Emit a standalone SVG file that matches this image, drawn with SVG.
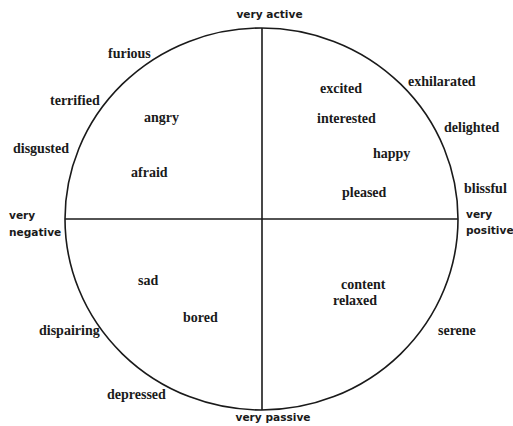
<svg xmlns="http://www.w3.org/2000/svg" width="513" height="426" viewBox="0 0 513 426">
<style>
.emo{font-family:"Liberation Serif","Times New Roman",serif;font-weight:bold;font-size:14px;fill:#1a1a1a}
.ax{font-family:"DejaVu Sans",Verdana,sans-serif;font-weight:bold;font-size:10.6px;fill:#1a1a1a}
.ln{stroke:#1a1a1a;stroke-width:1.6;fill:none}
</style>
<rect width="513" height="426" fill="#ffffff"/>
<g id="frame">
<ellipse class="ln" cx="261.5" cy="219" rx="196.5" ry="191"/>
</g>
<g id="axes">
<line class="ln" x1="262" y1="28" x2="262" y2="410"/>
<line class="ln" x1="65" y1="219" x2="458" y2="219"/>
</g>
<g id="axis-labels">
<text class="ax" x="269.5" y="18" text-anchor="middle">very active</text>
<text class="ax" x="273" y="421" text-anchor="middle">very passive</text>
<text class="ax" x="9" y="219">very</text>
<text class="ax" x="9" y="236">negative</text>
<text class="ax" x="466" y="218">very</text>
<text class="ax" x="466" y="234">positive</text>
</g>
<g id="emotions">
<text class="emo" x="108" y="58">furious</text>
<text class="emo" x="50" y="105">terrified</text>
<text class="emo" x="144" y="122">angry</text>
<text class="emo" x="13" y="153">disgusted</text>
<text class="emo" x="131" y="177">afraid</text>
<text class="emo" x="320" y="93">excited</text>
<text class="emo" x="408" y="86">exhilarated</text>
<text class="emo" x="317" y="123">interested</text>
<text class="emo" x="444" y="132">delighted</text>
<text class="emo" x="373" y="158">happy</text>
<text class="emo" x="342" y="197">pleased</text>
<text class="emo" x="464" y="193">blissful</text>
<text class="emo" x="138" y="285">sad</text>
<text class="emo" x="183" y="322">bored</text>
<text class="emo" x="39" y="335">dispairing</text>
<text class="emo" x="107" y="399">depressed</text>
<text class="emo" x="341" y="289">content</text>
<text class="emo" x="333" y="305">relaxed</text>
<text class="emo" x="438" y="335">serene</text>
</g>
</svg>
